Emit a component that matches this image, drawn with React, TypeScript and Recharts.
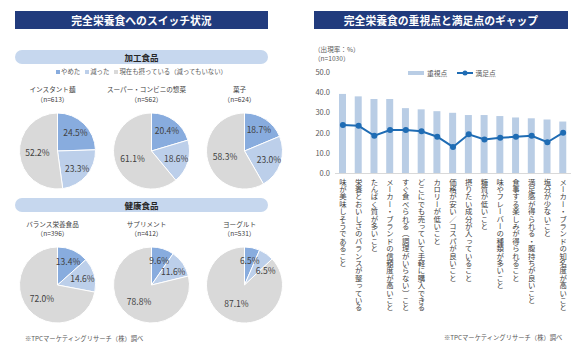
import React from 'react';
import { PieChart, Pie, Cell, ComposedChart, Bar, Line, XAxis, YAxis } from 'recharts';

// ---- Data ----
const processedCategories = ['インスタント麺', 'スーパー・コンビニの惣菜', '菓子'];
const processedN = [613, 562, 624];
const processedQuit = [24.5, 20.4, 18.7];
const processedReduced = [23.3, 18.6, 23.0];
const processedContinue = [52.2, 61.1, 58.3];

const healthCategories = ['バランス栄養食品', 'サプリメント', 'ヨーグルト'];
const healthN = [396, 412, 531];
const healthQuit = [13.4, 9.6, 6.5];
const healthReduced = [14.6, 11.6, 6.5];
const healthContinue = [72.0, 78.8, 87.1];

const sliceNames = ['やめた', '減った', '現在も摂っている（減ってもいない）'];

const gapCategories = [
  '味が美味しそうであること',
  '栄養とおいしさのバランスが整っている',
  'たんぱく質が多いこと',
  'メーカー・ブランドの信頼度が高いこと',
  'すぐ食べられる（調理がいらない）こと',
  'どこにでも売っていて手軽に購入できる',
  'カロリーが低いこと',
  '価格が安い／コスパが良いこと',
  '摂りたい成分が入っていること',
  '糖質が低いこと',
  '味やフレーバーの種類が多いこと',
  '食事する楽しみが得られること',
  '満足感が得られる・腹持ちが良いこと',
  '塩分が少ないこと',
  'メーカー・ブランドの知名度が高いこと',
];
const importanceValues = [39.2, 38.0, 36.7, 36.7, 32.2, 31.6, 30.7, 29.9, 28.8, 28.8, 28.3, 27.6, 27.2, 26.6, 25.6];
const satisfactionValues = [23.9, 23.5, 18.6, 21.4, 21.4, 20.8, 18.1, 13.1, 19.3, 16.8, 17.6, 18.1, 18.6, 15.4, 20.1];
const yTicks = [0, 10, 20, 30, 40, 50];

// ---- Styles ----
const FONT = '"Noto Sans CJK JP", "Noto Sans", sans-serif';
const NAVY = '#213b7d';
const PILL = '#c6d7ee';
const TEXT = '#404040';
const pieColors = ['#88acde', '#bccfea', '#d9d9d9'];
const BAR = '#b9cde5';
const LINE = '#1f6cb4';

const gapData = gapCategories.map((c, i) => ({
  name: c,
  importance: importanceValues[i],
  satisfaction: satisfactionValues[i],
}));

const buildPie = (q: number[], r: number[], c: number[], i: number) => [
  { name: sliceNames[0], value: q[i] },
  { name: sliceNames[1], value: r[i] },
  { name: sliceNames[2], value: c[i] },
];

const RADIAN = Math.PI / 180;
const pieCx = [52.5, 146.5, 239.5];
const PIE_R = 38;

// Label placement inside slices, nudging clockwise to avoid overlap
const polar = (ang: number, r: number) => ({ x: r * Math.sin(ang * RADIAN), y: -r * Math.cos(ang * RADIAN) });
const labelOffsets = (values: number[]) => {
  const total = values.reduce((a, b) => a + b, 0);
  let cum = 0;
  const placed: { x: number; y: number }[] = [];
  values.forEach((v) => {
    const frac = v / total;
    let ang = (cum + frac / 2) * 360;
    cum += frac;
    const r = PIE_R * (frac > 0.4 ? 0.53 : 0.68);
    let pos = polar(ang, r);
    let guard = 0;
    while (placed.some((q) => Math.abs(q.x - pos.x) < 25 && Math.abs(q.y - pos.y) < 10.5) && guard < 90) {
      ang += 1;
      pos = polar(ang, r);
      guard++;
    }
    placed.push(pos);
  });
  return placed;
};

const makeLabel = (offsets: { x: number; y: number }[]) => (p: any) => {
  const o = offsets[p.index] || { x: 0, y: 0 };
  return (
    <text
      x={p.cx + o.x}
      y={p.cy + o.y}
      textAnchor="middle"
      dominantBaseline="central"
      fontSize={8.5}
      fill={TEXT}
      fontFamily={FONT}
    >
      {Number(p.value).toFixed(1)}%
    </text>
  );
};

const VerticalTick = (props: any) => {
  const { x, y, payload } = props;
  return (
    <text
      x={x}
      y={y + 4.5}
      fontSize={7.4}
      fill={TEXT}
      fontFamily={FONT}
      style={{ writingMode: 'vertical-rl' as any }}
    >
      {payload.value}
    </text>
  );
};

const abs = (left: number, top: number, extra: React.CSSProperties = {}): React.CSSProperties => ({
  position: 'absolute',
  left,
  top,
  ...extra,
});

const Sq = ({ color }: { color: string }) => (
  <span style={{ display: 'inline-block', width: 4, height: 4, background: color, marginRight: 1, verticalAlign: 'middle' }} />
);

export default function App() {
  const pies = [
    ...processedCategories.map((_, i) => ({ data: buildPie(processedQuit, processedReduced, processedContinue, i), cx: pieCx[i], cy: 146 })),
    ...healthCategories.map((_, i) => ({ data: buildPie(healthQuit, healthReduced, healthContinue, i), cx: pieCx[i], cy: 280 })),
  ];

  return (
    <div style={{ position: 'absolute', left: 0, top: 0, width: 580, height: 353, background: '#fff', fontFamily: FONT, color: TEXT, overflow: 'hidden' }}>
      {/* Left title */}
      <div style={abs(15, 11, { width: 253, height: 18, background: NAVY, color: '#fff', fontWeight: 700, fontSize: 10.8, textAlign: 'center', lineHeight: '18px' })}>
        完全栄養食へのスイッチ状況
      </div>
      {/* Pills */}
      <div style={abs(15, 50, { width: 253, height: 14, background: PILL, borderRadius: 7, fontWeight: 700, fontSize: 8.5, textAlign: 'center', lineHeight: '14px', color: '#262626' })}>
        加工食品
      </div>
      <div style={abs(15, 198, { width: 253, height: 14, background: PILL, borderRadius: 7, fontWeight: 700, fontSize: 8.5, textAlign: 'center', lineHeight: '14px', color: '#262626' })}>
        健康食品
      </div>
      {/* Legend */}
      <div style={abs(15, 67, { width: 253, textAlign: 'center', fontSize: 6.4, lineHeight: '10px', color: '#595959', whiteSpace: 'nowrap' })}>
        <Sq color={pieColors[0]} />{sliceNames[0]}
        <span style={{ display: 'inline-block', width: 5 }} />
        <Sq color={pieColors[1]} />{sliceNames[1]}
        <span style={{ display: 'inline-block', width: 5 }} />
        <Sq color={pieColors[2]} />{sliceNames[2]}
      </div>
      {/* Pie titles */}
      {processedCategories.map((c, i) => (
        <div key={'pt' + i} style={abs(pieCx[i] - 45, 84, { width: 90, textAlign: 'center', fontSize: 6.6, lineHeight: '10px', whiteSpace: 'nowrap' })}>
          {c}
          <br />（n={processedN[i]}）
        </div>
      ))}
      {healthCategories.map((c, i) => (
        <div key={'ht' + i} style={abs(pieCx[i] - 45, 220, { width: 90, textAlign: 'center', fontSize: 6.6, lineHeight: '9px', whiteSpace: 'nowrap' })}>
          {c}
          <br />（n={healthN[i]}）
        </div>
      ))}
      {/* Pies */}
      <div style={abs(0, 0)}>
        <PieChart width={290} height={353}>
          {pies.map((p, k) => (
            <Pie
              key={'pie' + k}
              data={p.data}
              dataKey="value"
              cx={p.cx}
              cy={p.cy}
              outerRadius={PIE_R}
              startAngle={90}
              endAngle={-270}
              stroke="#fff"
              strokeWidth={1}
              labelLine={false}
              label={makeLabel(labelOffsets(p.data.map((d) => d.value)))}
              isAnimationActive={false}
            >
              {p.data.map((_, j) => (
                <Cell key={'c' + j} fill={pieColors[j]} />
              ))}
            </Pie>
          ))}
        </PieChart>
      </div>
      <div style={abs(25, 334, { fontSize: 6.3, lineHeight: '10px', color: '#595959', whiteSpace: 'nowrap' })}>
        ※TPCマーケティングリサーチ（株）調べ
      </div>

      {/* Right title */}
      <div style={abs(314, 11, { width: 254, height: 18, background: NAVY, color: '#fff', fontWeight: 700, fontSize: 10.8, textAlign: 'center', lineHeight: '18px' })}>
        完全栄養食の重視点と満足点のギャップ
      </div>
      <div style={abs(314, 45, { fontSize: 6.6, lineHeight: '8.5px', color: '#595959', whiteSpace: 'nowrap' })}>
        （出現率：%）
        <br />（n=1030）
      </div>
      {/* Right legend */}
      <div style={abs(408, 68, { fontSize: 6.8, lineHeight: '10px', color: '#595959', whiteSpace: 'nowrap', display: 'flex', alignItems: 'center' })}>
        <span style={{ display: 'inline-block', width: 16, height: 4, background: BAR, marginRight: 3 }} />
        重視点
        <span style={{ display: 'inline-block', width: 10 }} />
        <svg width={16} height={8} style={{ marginRight: 2 }}>
          <line x1={0} y1={4} x2={16} y2={4} stroke={LINE} strokeWidth={2} />
          <circle cx={8} cy={4} r={2.5} fill={LINE} />
        </svg>
        満足点
      </div>
      <div style={abs(290, 0)}>
        <ComposedChart width={290} height={353} data={gapData} margin={{ top: 72, right: 9, bottom: 29.5, left: 0 }}>
          <XAxis
            dataKey="name"
            interval={0}
            height={150}
            tickLine={false}
            tickSize={0}
            tickMargin={0}
            axisLine={{ stroke: '#d9d9d9' }}
            tick={<VerticalTick />}
          />
          <YAxis
            domain={[0, 50]}
            ticks={yTicks}
            width={45}
            axisLine={false}
            tickLine={false}
            tickSize={0}
            tickMargin={5}
            tickFormatter={(v: number) => v.toFixed(1)}
            tick={{ fontSize: 7.5, fill: '#595959', fontFamily: FONT }}
          />
          <Bar dataKey="importance" fill={BAR} barSize={7} isAnimationActive={false} />
          <Line
            dataKey="satisfaction"
            stroke={LINE}
            strokeWidth={2}
            dot={{ r: 3, fill: LINE, stroke: LINE, strokeWidth: 0 }}
            isAnimationActive={false}
          />
        </ComposedChart>
      </div>
      <div style={abs(444, 333, { fontSize: 6.3, lineHeight: '10px', color: '#595959', whiteSpace: 'nowrap' })}>
        ※TPCマーケティングリサーチ（株）調べ
      </div>
    </div>
  );
}
